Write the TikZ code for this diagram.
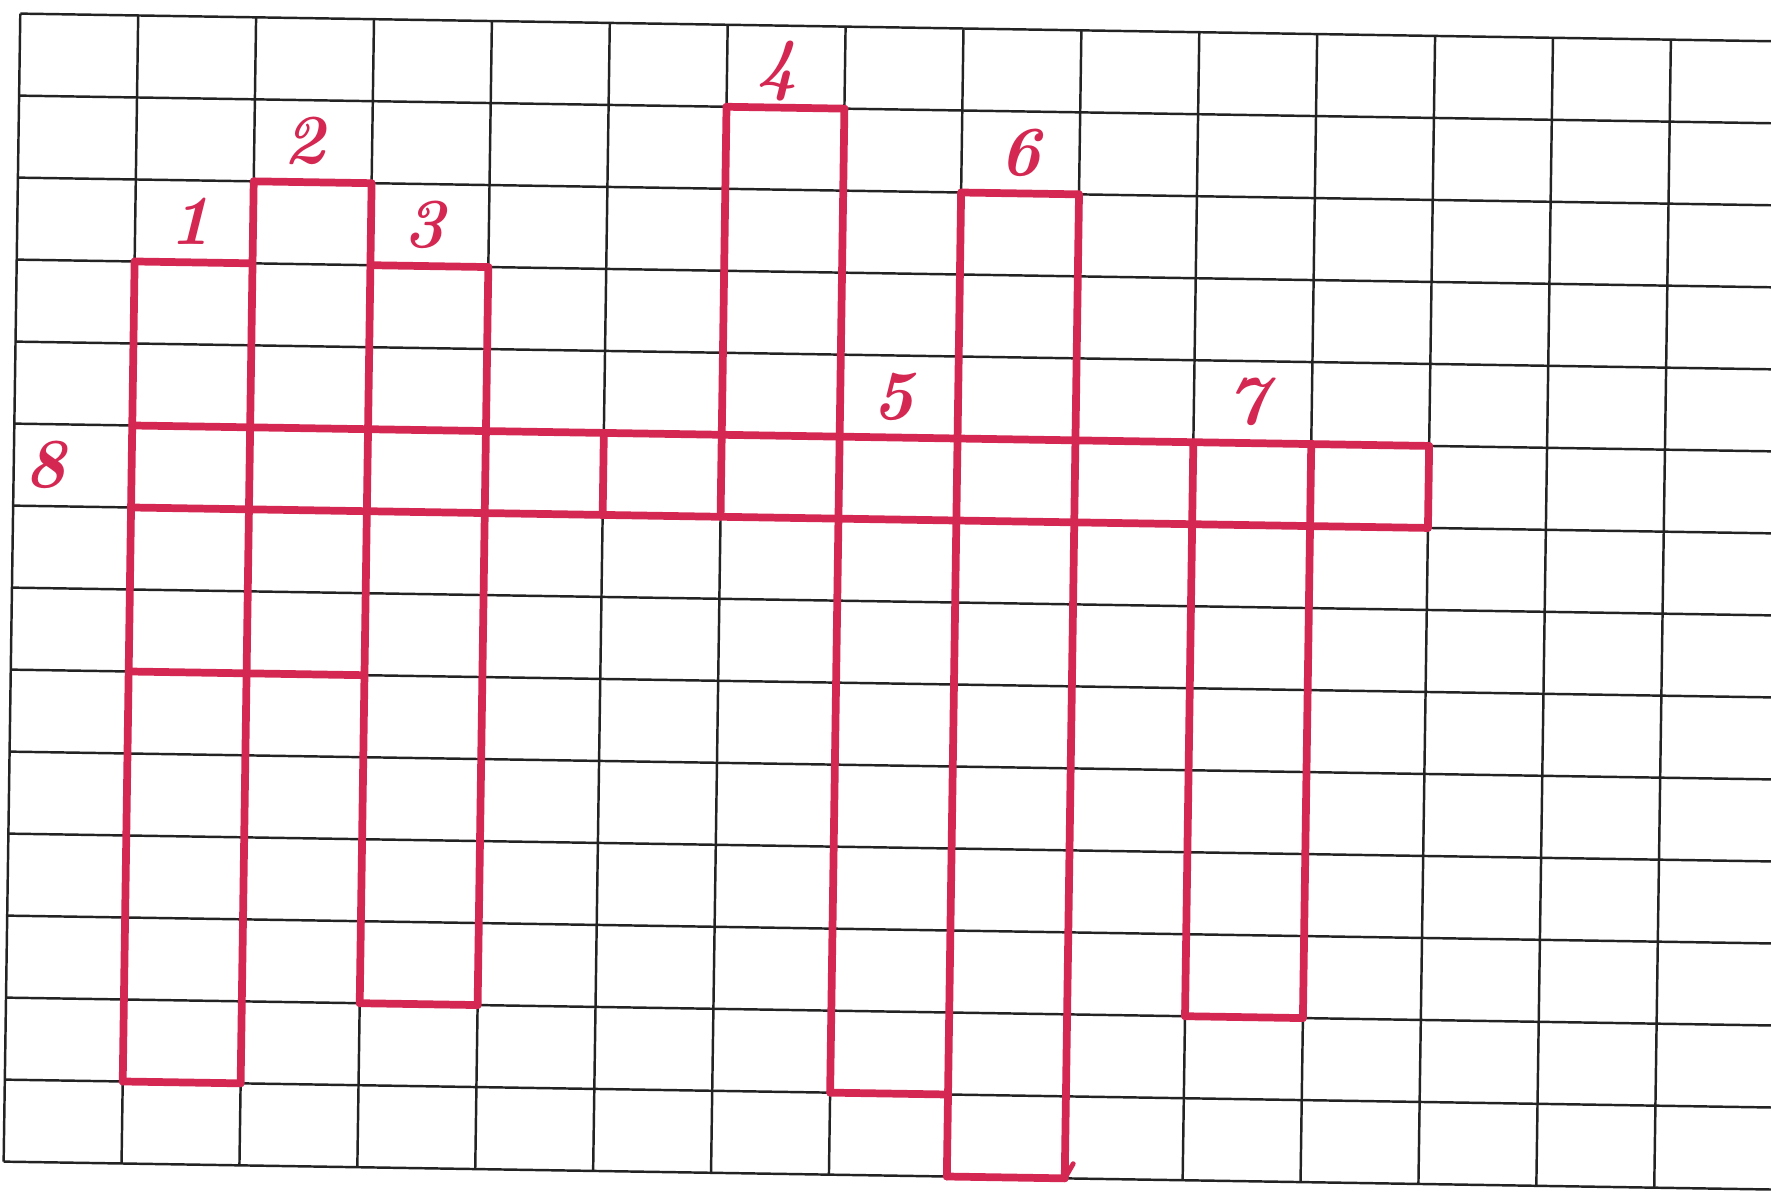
\documentclass[tikz,border=0pt]{standalone}
\definecolor{penred}{RGB}{212,40,82}
\definecolor{inkgray}{RGB}{35,35,35}
\tikzset{
  gridline/.style={draw=inkgray, line width=0.7pt},
  penline/.style={draw=penred, line width=2.2pt, line cap=round, line join=round},
  num/.style={text=penred, font=\fontsize{20}{24}\selectfont\bfseries\itshape, inner sep=0pt}
}
\begin{document}
\begin{tikzpicture}
\useasboundingbox (0,0) rectangle (17.71,-11.91);
\fill[white] (0,0) rectangle (17.71,-11.91);
\clip (0,0) rectangle (17.71,-11.91);
\begin{scope}[shift={(0.203cm,-0.136cm)}, x={(1.179cm,-0.0186cm)}, y={(-0.0119cm,-0.820cm)}]
  % graph paper
  \foreach \j in {0,...,14} \draw[gridline] (0,\j) -- (15.3,\j);
  \foreach \i in {0,...,14} \draw[gridline] (\i,0) -- (\i,14);
  % crossword: vertical edges (column line, from row, to row)
  \foreach \i/\a/\b in {1/3/13, 2/2/13, 3/2/12, 4/3/12, 5/5/6, 6/1/6, 7/1/13, 8/2/14, 9/2/14, 10/5/12, 11/5/12, 12/5/6}
    \draw[penline] (\i,\a) -- (\i,\b);
  % crossword: horizontal edges (row line, from column, to column)
  \foreach \j/\a/\b in {1/6/7, 2/2/3, 2/8/9, 3/1/2, 3/3/4, 5/1/12, 6/1/12, 8/1/3, 12/3/4, 12/10/11, 13/1/2, 13/7/8, 14/8/9}
    \draw[penline] (\a,\j) -- (\b,\j);
  % pen flick at the bottom of word 6
  \coordinate (tailstart) at (9,14);
  \coordinate (tailend) at (9.07,13.82);
  \draw[penline, line width=1.4pt] (tailstart) -- (tailend);
  % clue numbers
  \node[num] (n1) at (1.47,2.5) {1};
  \node[num] (n2) at (2.42,1.5) {2};
  \node[num] (n3) at (3.45,2.5) {3};
  \node[num] (n4) at (6.43,0.55) {4};
  \node[num] (n5) at (7.45,4.5) {5};
  \node[num] (n6) at (8.5,1.5) {6};
  \node[num] (n7) at (10.45,4.5) {7};
  \node[num] (n8) at (0.27,5.5) {8};
\end{scope}
\end{tikzpicture}
\end{document}
